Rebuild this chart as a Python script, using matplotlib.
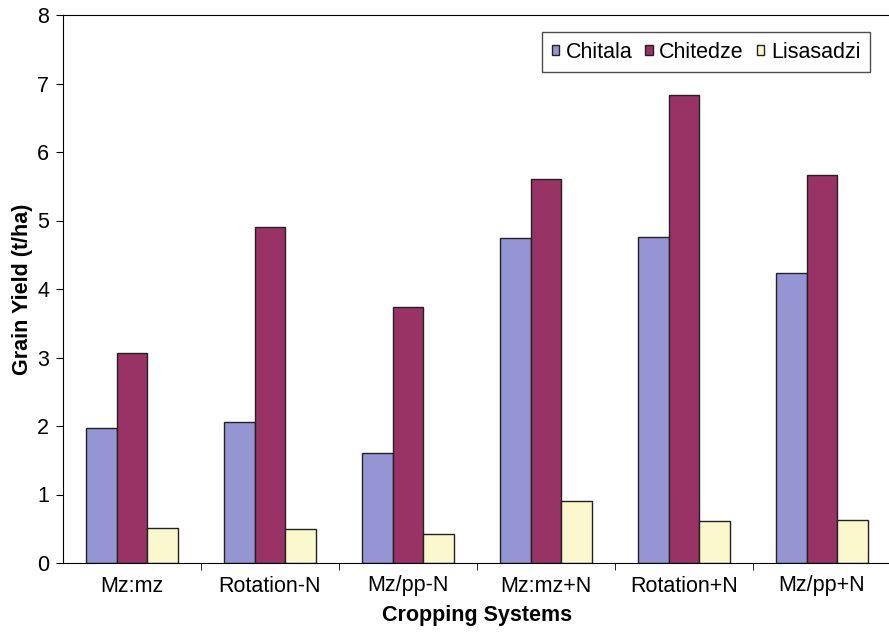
import numpy as np
import matplotlib
matplotlib.use('Agg')
import matplotlib.pyplot as plt

plt.rcParams['font.family'] = ['Liberation Sans', 'DejaVu Sans']

# data
systems = ['Mz:mz', 'Rotation-N', 'Mz/pp-N', 'Mz:mz+N', 'Rotation+N', 'Mz/pp+N']
chitala = [1.97, 2.06, 1.61, 4.75, 4.76, 4.23]
chitedze = [3.07, 4.90, 3.74, 5.61, 6.83, 5.66]
lisasadzi = [0.51, 0.50, 0.43, 0.90, 0.62, 0.63]
sites = ['Chitala', 'Chitedze', 'Lisasadzi']
colors = ['#9595D4', '#993366', '#FAF8CC']

fs = 15.5

fig = plt.figure(figsize=(8.89, 6.33), dpi=100)
ax = fig.add_axes([63 / 889, 1 - 563 / 633, 828 / 889, 548 / 633])

x = np.arange(len(systems))
w = 0.222
for i, (vals, name, c) in enumerate(zip([chitala, chitedze, lisasadzi], sites, colors)):
    ax.bar(x + (i - 1) * w, vals, width=w, color=c, edgecolor='#222222',
           linewidth=1.0, label=name)

ax.set_xlim(-0.5, len(systems) - 0.5)
ax.set_ylim(0, 8)
ax.set_yticks(range(0, 9))
ax.set_xticks(x)
ax.set_xticklabels(systems)
ax.set_xticks(np.arange(-0.5, len(systems), 1.0)[1:], minor=True)
ax.tick_params(axis='x', which='major', length=0, pad=9, labelsize=fs)
ax.tick_params(axis='x', which='minor', length=5, direction='out')
ax.tick_params(axis='y', length=5, direction='out', labelsize=fs, pad=5)
ax.spines['right'].set_visible(False)

ax.set_xlabel('Cropping Systems', fontsize=fs, fontweight='bold', labelpad=6)
ax.set_ylabel('Grain Yield (t/ha)', fontsize=fs, fontweight='bold', labelpad=3)

leg = ax.legend(loc='upper right', bbox_to_anchor=(0.9746, 0.969), borderaxespad=0,
                ncol=3, fontsize=fs, frameon=True, fancybox=False,
                handlelength=0.35, handleheight=0.35, handletextpad=0.3,
                columnspacing=0.6, borderpad=0.45)
leg.get_frame().set_edgecolor('#222222')
leg.get_frame().set_linewidth(1.0)

plt.savefig('out.png', dpi=100)
